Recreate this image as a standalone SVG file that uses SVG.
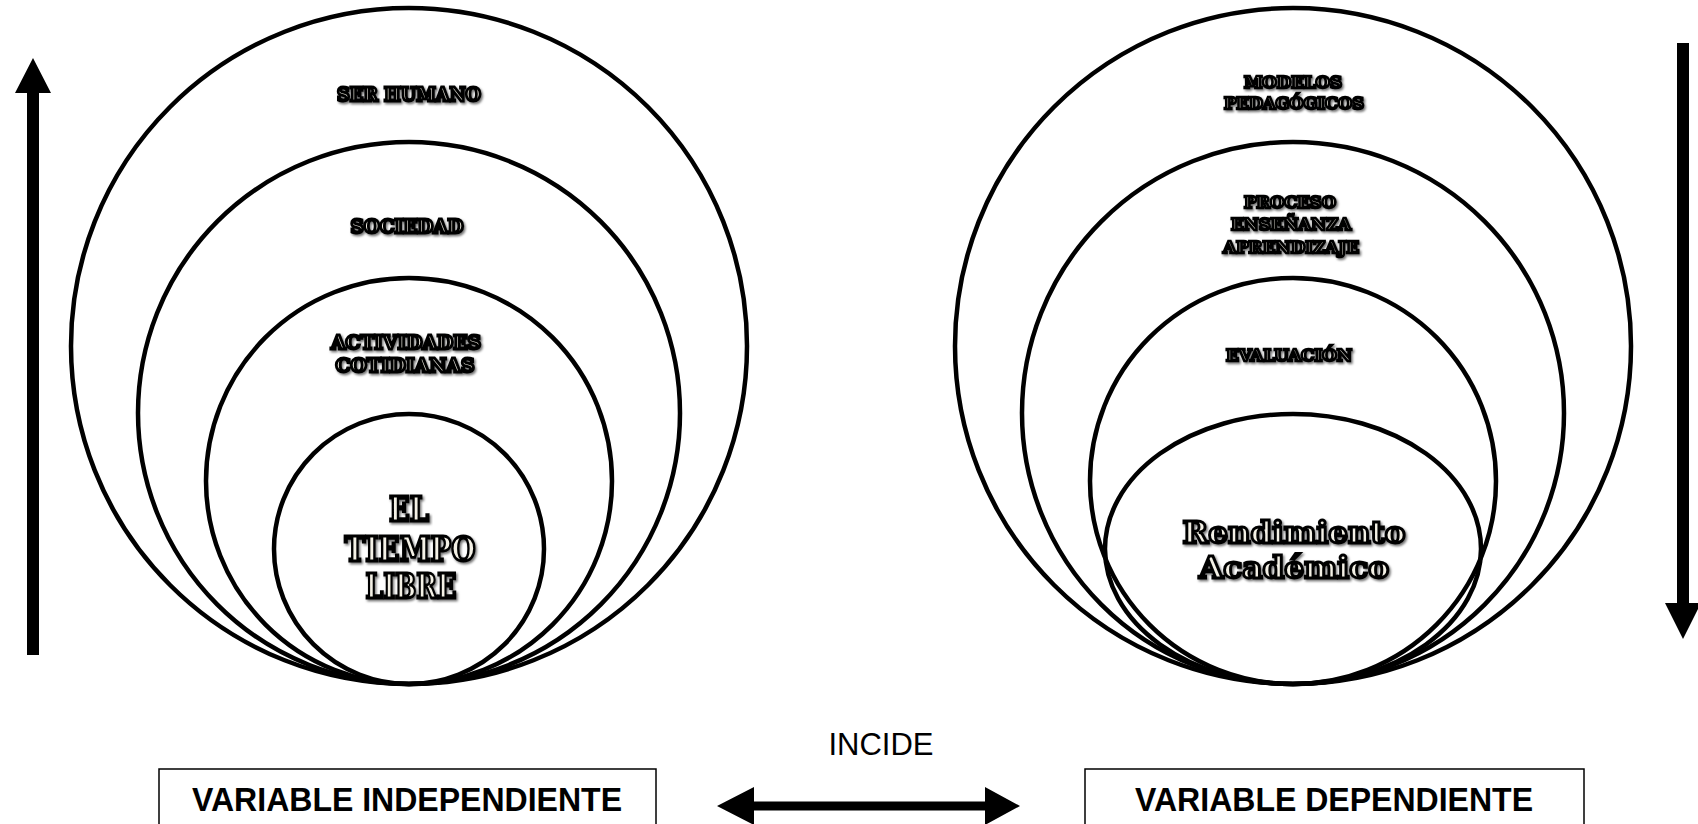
<svg xmlns="http://www.w3.org/2000/svg" width="1698" height="824" viewBox="0 0 1698 824">
<style>
.ring{fill:none;stroke:#000;stroke-width:4.5}
.lbl{font-family:"DejaVu Serif","Liberation Serif",serif;font-weight:bold;fill:#f4f1e6;stroke:#000;text-anchor:middle;filter:url(#sh)}
.s{font-size:18px;stroke-width:2.8}
.r{font-size:16px;stroke-width:2.6}
.b{font-size:33px;stroke-width:2.8}
.b2{font-size:29.5px;stroke-width:2.8}
.box{fill:#fff;stroke:#000;stroke-width:1.5}
.bt{font-family:"Liberation Sans",Arial,sans-serif;font-weight:bold;font-size:33px;text-anchor:middle;fill:#000}
.inc{font-family:"Liberation Sans",Arial,sans-serif;font-size:31px;text-anchor:middle;fill:#000}
</style>
<defs>
<filter id="sh" x="-10%" y="-30%" width="120%" height="160%">
<feDropShadow dx="1.5" dy="1.8" stdDeviation="1.2" flood-color="#000" flood-opacity="0.55"/>
</filter>
</defs>
<rect width="1698" height="824" fill="#fff"/>

<g id="ser-humano">
<circle class="ring" cx="409" cy="346" r="338"/>
<text class="lbl s" x="409" y="101" textLength="144" lengthAdjust="spacingAndGlyphs">SER HUMANO</text>
</g>
<g id="sociedad">
<circle class="ring" cx="409" cy="413" r="271"/>
<text class="lbl s" x="407" y="233" textLength="113" lengthAdjust="spacingAndGlyphs">SOCIEDAD</text>
</g>
<g id="actividades">
<circle class="ring" cx="409" cy="481" r="203"/>
<text class="lbl s" x="406" y="349" textLength="150" lengthAdjust="spacingAndGlyphs">ACTIVIDADES</text>
<text class="lbl s" x="405" y="372" textLength="139" lengthAdjust="spacingAndGlyphs">COTIDIANAS</text>
</g>
<g id="tiempo-libre">
<circle class="ring" cx="409" cy="549" r="135"/>
<text class="lbl b" x="409" y="521" textLength="40" lengthAdjust="spacingAndGlyphs">EL</text>
<text class="lbl b" x="410" y="561" textLength="131" lengthAdjust="spacingAndGlyphs">TIEMPO</text>
<text class="lbl b" x="411" y="598" textLength="91" lengthAdjust="spacingAndGlyphs">LIBRE</text>
</g>

<g id="modelos">
<circle class="ring" cx="1293" cy="346" r="338"/>
<text class="lbl r" x="1293" y="88" textLength="98" lengthAdjust="spacingAndGlyphs">MODELOS</text>
<text class="lbl r" x="1294" y="109" textLength="140" lengthAdjust="spacingAndGlyphs">PEDAGÓGICOS</text>
</g>
<g id="proceso">
<circle class="ring" cx="1293" cy="413" r="271"/>
<text class="lbl r" x="1290" y="208" textLength="92" lengthAdjust="spacingAndGlyphs">PROCESO</text>
<text class="lbl r" x="1291" y="230" textLength="120" lengthAdjust="spacingAndGlyphs">ENSEÑANZA</text>
<text class="lbl r" x="1291" y="253" textLength="136" lengthAdjust="spacingAndGlyphs">APRENDIZAJE</text>
</g>
<g id="evaluacion">
<circle class="ring" cx="1293" cy="481" r="203"/>
<text class="lbl r" x="1289" y="361" textLength="126" lengthAdjust="spacingAndGlyphs">EVALUACIÓN</text>
</g>
<g id="rendimiento">
<ellipse class="ring" cx="1293" cy="549" rx="188" ry="135"/>
<text class="lbl b2" x="1294" y="543" textLength="223" lengthAdjust="spacingAndGlyphs">Rendimiento</text>
<text class="lbl b2" x="1294" y="578" textLength="190" lengthAdjust="spacingAndGlyphs">Académico</text>
</g>

<g id="var-independiente">
<rect class="box" x="159" y="769" width="497" height="80"/>
<text class="bt" x="407" y="811" textLength="430" lengthAdjust="spacingAndGlyphs">VARIABLE INDEPENDIENTE</text>
</g>
<g id="var-dependiente">
<rect class="box" x="1085" y="769" width="499" height="80"/>
<text class="bt" x="1334" y="811" textLength="398" lengthAdjust="spacingAndGlyphs">VARIABLE DEPENDIENTE</text>
</g>
<g id="incide">
<text class="inc" x="881" y="755">INCIDE</text>
</g>

<g id="connectors" fill="#000">
<polygon points="33,58 51,93 39,93 39,655 27,655 27,93 15,93"/>
<polygon points="1683,639 1665,603 1677,603 1677,43 1689,43 1689,603 1701,603"/>
<polygon points="717,806 754,787 754,801.5 985,801.5 985,787 1020,806 985,825 985,810.5 754,810.5 754,825"/>
</g>
</svg>
